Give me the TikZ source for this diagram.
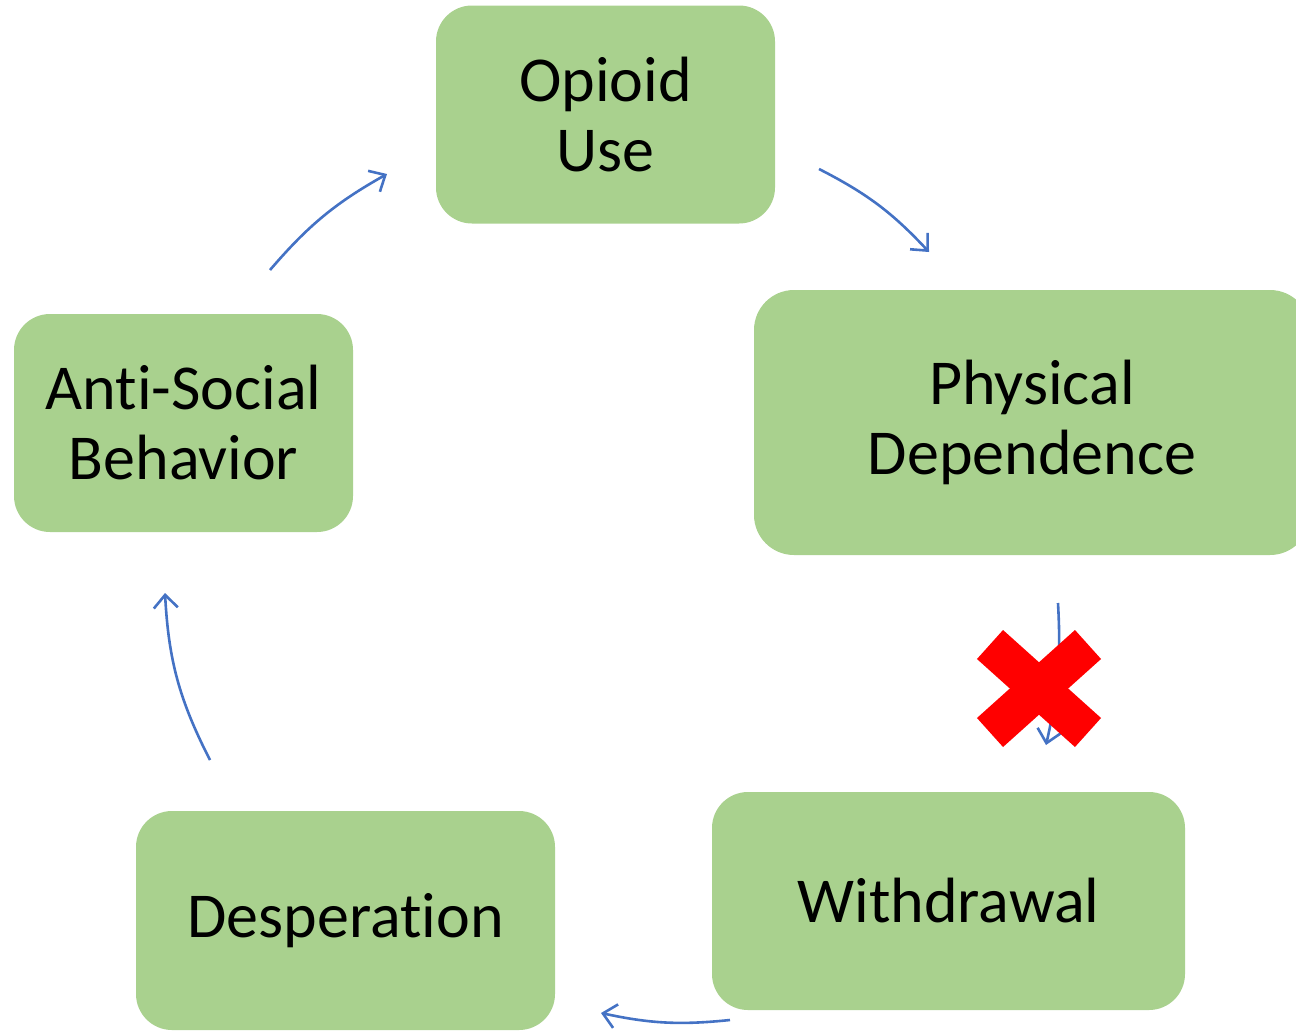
\documentclass[tikz,border=0pt]{standalone}
\usepackage{fontspec}
\setmainfont[Ligatures={NoCommon,NoRare,NoContextual},RawFeature={-liga;-clig;-dlig}]{Carlito}
\usetikzlibrary{arrows.meta}
\definecolor{boxgreen}{HTML}{A9D18E}
\definecolor{arrowblue}{HTML}{4472C4}
\definecolor{xred}{HTML}{FF0000}
\begin{document}
\begin{tikzpicture}[x=1pt,y=-1pt,
  stepbox/.style={fill=boxgreen,draw=none,rounded corners=36pt,align=center,
    font=\fontsize{64}{70}\selectfont,inner sep=0pt},
  cyc/.style={draw=arrowblue,line width=2.6pt,
    -{Straight Barb[length=13pt,width=24pt,line width=2.6pt]}}]
\useasboundingbox (0,0) rectangle (1296,1031);
\clip (0,0) rectangle (1296,1031);
\node[stepbox,minimum width=339pt,minimum height=218pt] (use) at (605.5,114.5) {Opioid\\Use};
\node[stepbox,minimum width=556pt,minimum height=265pt,rounded corners=40pt] (dep) at (1032,422.5) {Physical\\Dependence};
\node[stepbox,minimum width=473pt,minimum height=218pt] (wd) at (948.5,901) {Withdrawal};
\node[stepbox,minimum width=419pt,minimum height=219pt] (desp) at (345.5,920.5) {Desperation};
\node[stepbox,minimum width=339pt,minimum height=218pt] (anti) at (183.5,423) {Anti-Social\\Behavior};
\coordinate (a1s) at (270,270); \coordinate (a1e) at (387,174);
\coordinate (a2s) at (819,169); \coordinate (a2e) at (929,252);
\coordinate (a3s) at (1058,603); \coordinate (a3e) at (1046,745);
\coordinate (a4s) at (730,1020); \coordinate (a4e) at (601,1013);
\coordinate (a5s) at (210,760); \coordinate (a5e) at (165,593);
\draw[cyc] (a1s) to[bend left=10] (a1e);
\draw[cyc] (a2s) to[bend left=10] (a2e);
\draw[cyc] (a3s) to[bend left=8] (a3e);
\draw[cyc] (a4s) to[bend left=9] (a4e);
\draw[cyc] (a5s) to[bend left=12] (a5e);
\coordinate (xa) at (990,644.5); \coordinate (xb) at (1088,732.5);
\coordinate (xc) at (1088,644.5); \coordinate (xd) at (990,732.5);
\draw[xred,line width=39pt,line cap=butt] (xa) -- (xb);
\draw[xred,line width=39pt,line cap=butt] (xc) -- (xd);
\end{tikzpicture}
\end{document}
